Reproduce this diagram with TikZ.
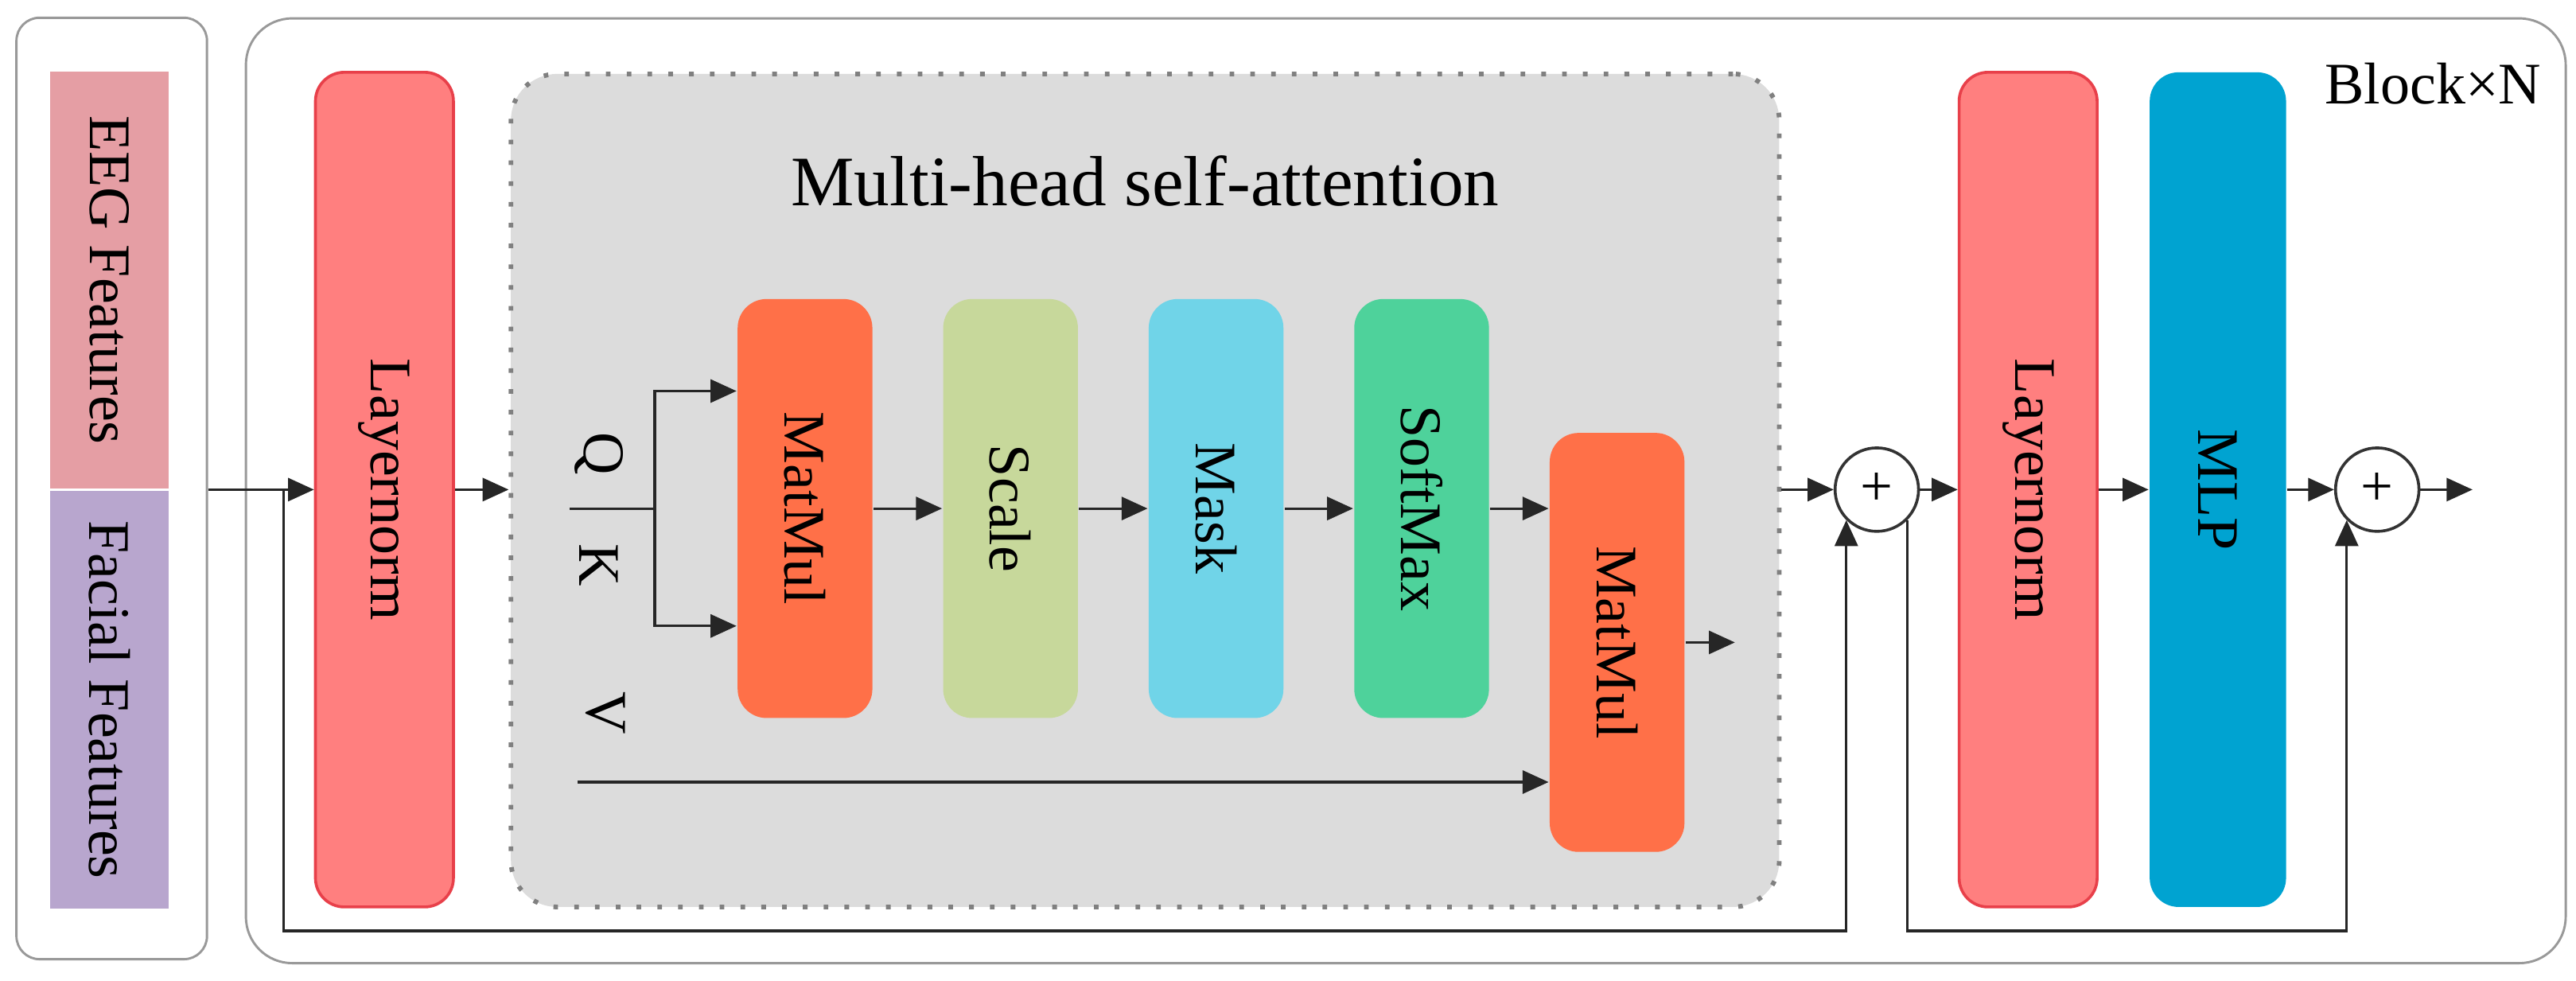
\documentclass[tikz,border=0pt]{standalone}
\usepackage{fontspec}
\setmainfont{Liberation Serif}
\usepackage{xcolor}
\definecolor{lnred}{RGB}{255,127,127}
\definecolor{lnedge}{RGB}{232,64,74}
\definecolor{eegpink}{RGB}{229,158,164}
\definecolor{facepurple}{RGB}{184,166,206}
\definecolor{attgray}{RGB}{220,220,220}
\definecolor{mmorange}{RGB}{255,112,72}
\definecolor{scgreen}{RGB}{199,216,155}
\definecolor{mkcyan}{RGB}{112,212,232}
\definecolor{smgreen}{RGB}{78,210,155}
\definecolor{mlpblue}{RGB}{0,163,209}
\usetikzlibrary{arrows.meta, positioning}

\tikzset{
  arr/.style={-{Triangle[length=4.5pt,width=4pt]}, black!85, line width=0.45pt},
  lbl/.style={font=\fontsize{10.2}{12}\selectfont, inner sep=0pt},
  opbox/.style={rounded corners=5pt, minimum width=0.82cm, minimum height=2.55cm,
                inner sep=0pt, font=\fontsize{10.2}{12}\selectfont},
  normbox/.style={rounded corners=5pt, fill=lnred, draw=lnedge, line width=0.5pt,
                  minimum width=0.84cm, minimum height=5.08cm, inner sep=0pt,
                  font=\fontsize{10.2}{12}\selectfont},
  featbar/.style={minimum width=0.72cm, minimum height=2.54cm, inner sep=0pt,
                  font=\fontsize{10.2}{12}\selectfont},
  plusnode/.style={circle, draw=black!80, fill=white, line width=0.5pt,
                   minimum size=0.508cm, inner sep=0pt, font=\fontsize{10}{12}\selectfont},
}

\begin{document}
\begin{tikzpicture}

\useasboundingbox (0,0) rectangle (15.68,5.97);

% === Frames ===
\node[draw=black!40, rounded corners=4pt, minimum width=1.16cm, minimum height=5.73cm] (inbox) at (0.68,2.997) {};
\node[draw=black!40, rounded corners=8pt, minimum width=14.12cm, minimum height=5.75cm] (blockbox) at (8.557,2.983) {};
\node[lbl] (blocklab) at (14.81,5.46) {Block×N};

% Input features
\node[featbar, fill=eegpink] (eeg) at (0.666,4.265) {\rotatebox{-90}{EEG Features}};
\node[featbar, fill=facepurple, below=0pt of eeg] (face) {\rotatebox{-90}{Facial Features}};

% === Attention part ===
\node[normbox] (lnA) at (2.34,2.99) {\rotatebox{-90}{Layernorm}};

\node[fill=attgray, draw=black!50, dash pattern=on 0.8pt off 2.8pt, line width=0.8pt,
      rounded corners=8pt, minimum width=7.72cm, minimum height=5.07cm] (mhsa) at (6.97,2.985) {};
\node[font=\fontsize{12.3}{14}\selectfont] (mhtitle) at (6.97,4.87) {Multi-head self-attention};

\node[opbox, fill=mmorange] (mmA) at (4.90,2.875) {\rotatebox{-90}{MatMul}};
\node[opbox, fill=scgreen, right=0.417cm of mmA] (scale) {\rotatebox{-90}{Scale}};
\node[opbox, fill=mkcyan, right=0.417cm of scale] (mask) {\rotatebox{-90}{Mask}};
\node[opbox, fill=smgreen, right=0.417cm of mask] (smax) {\rotatebox{-90}{SoftMax}};
\node[opbox, fill=mmorange] (mmB) at (9.843,2.06) {\rotatebox{-90}{MatMul}};

\node[lbl] (qlab) at (3.646,3.21) {\rotatebox{-90}{Q}};
\node[lbl] (klab) at (3.646,2.53) {\rotatebox{-90}{K}};
\node[lbl] (vlab) at (3.685,1.63) {\rotatebox{-90}{V}};

\coordinate (qk) at (3.465,2.875);
\coordinate (br) at (3.985,2.875);
\coordinate (vin) at (3.516,1.21);
\coordinate (mhout) at (10.56,2.06);

% === MLP part ===
\node[plusnode] (plusA) at (11.424,2.99) {+};
\node[normbox] (lnB) at (12.345,2.99) {\rotatebox{-90}{Layernorm}};
\node[opbox, fill=mlpblue, minimum height=5.08cm, minimum width=0.83cm] (mlp) at (13.50,2.99) {\rotatebox{-90}{MLP}};
\node[plusnode] (plusB) at (14.47,2.99) {+};
\coordinate (out) at (15.05,2.99);

\coordinate (skipA) at (1.725,2.99);
\coordinate (botA) at (1.725,0.305);

% Connectors
\draw[arr] (inbox.east |- lnA) -- (lnA);
\draw[arr] (lnA) -- (mhsa.west |- lnA);
\draw[black!85, line width=0.45pt] (qk) -- (br);
\draw[arr] (br) |- ([yshift=7.15mm]mmA.west);
\draw[arr] (br) |- ([yshift=-7.15mm]mmA.west);
\draw[arr] (mmA) -- (scale);
\draw[arr] (scale) -- (mask);
\draw[arr] (mask) -- (smax);
\draw[arr] (smax) -- (smax -| mmB.west);
\draw[arr] (vin) -- (vin -| mmB.west);
\draw[arr] (mmB) -- (mhout);

\draw[arr] (mhsa.east |- plusA) -- (plusA);
\draw[arr] (plusA) -- (lnB);
\draw[arr] (lnB) -- (mlp);
\draw[arr] (mlp) -- (plusB);
\draw[arr] (plusB) -- (out);

% Residual lines
\draw[arr] (skipA) -- (botA) -| (plusA.-135);
\draw[arr] (plusA.-45) -- (plusA.-45 |- botA) -| (plusB.-135);

\end{tikzpicture}
\end{document}
